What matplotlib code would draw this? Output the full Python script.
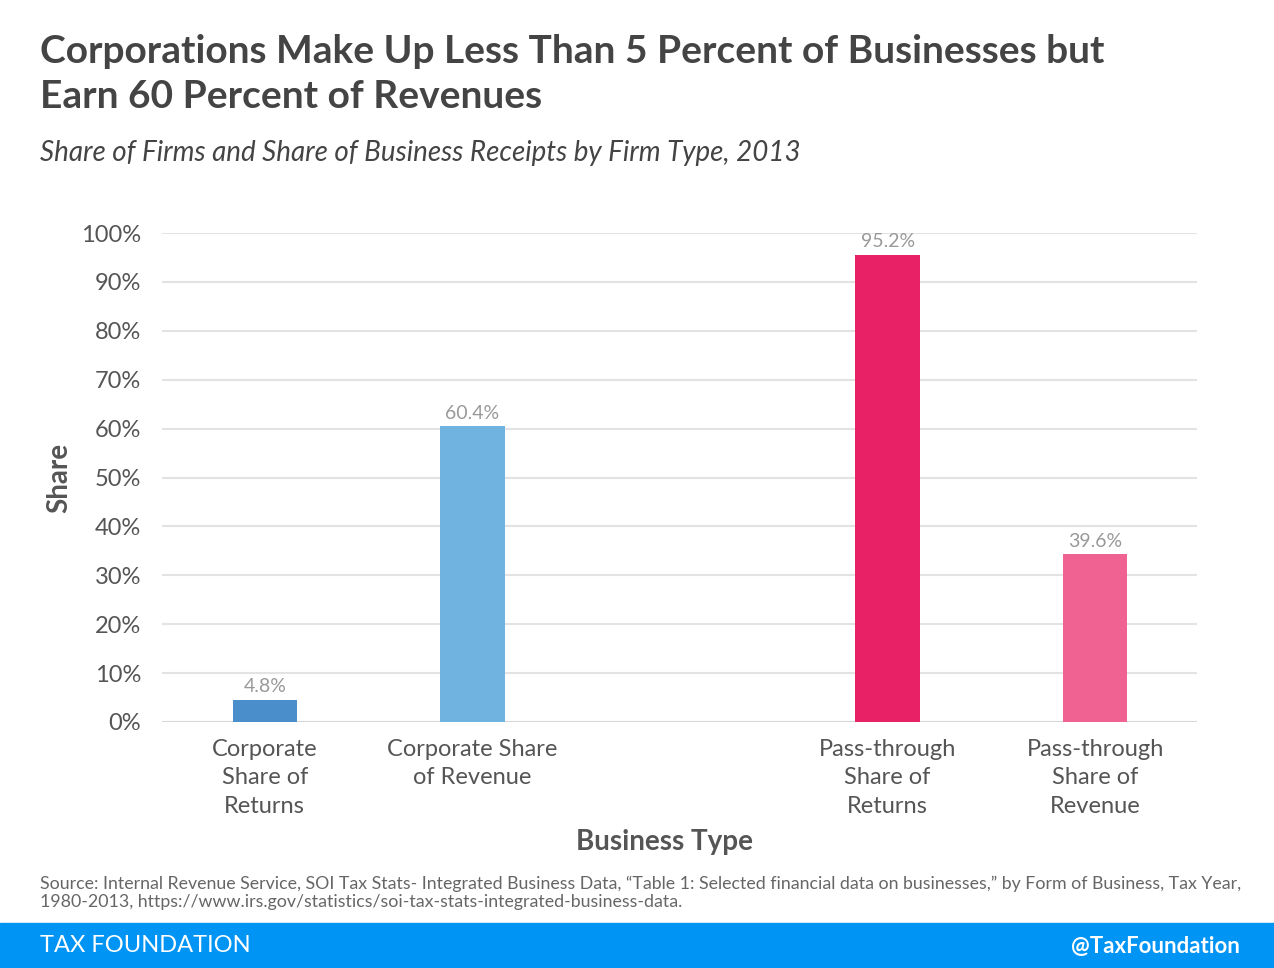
"""Corporate vs pass-through share of firms and receipts, 2013."""
import matplotlib
matplotlib.use("Agg")
import matplotlib.pyplot as plt
from matplotlib.patches import Rectangle

plt.rcParams['font.family'] = ['Lato', 'DejaVu Sans']

# data
categories = ['Corporate\nShare of\nReturns', 'Corporate Share\nof Revenue',
              'Pass-through\nShare of\nReturns', 'Pass-through\nShare of\nRevenue']
positions = [0, 1, 3, 4]                 # empty slot between the two groups
bar_heights = [4.6, 60.5, 95.6, 34.4]    # drawn heights (%)
value_labels = ['4.8%', '60.4%', '95.2%', '39.6%']
bar_colors = ['#4a8fcb', '#70b2e0', '#e82066', '#f06292']
y_ticks = [0, 10, 20, 30, 40, 50, 60, 70, 80, 90, 100]

text_dark = '#444444'
text_mid = '#555555'

fig = plt.figure(figsize=(12.74, 9.68), dpi=100)
ax = fig.add_axes([162 / 1274, 1 - 722 / 968, (1197 - 162) / 1274, (722 - 233) / 968])

bars = ax.bar(positions, bar_heights, width=0.31, color=bar_colors, zorder=3)
for bar, lab in zip(bars, value_labels):
    ax.annotate(lab, (bar.get_x() + bar.get_width() / 2, bar.get_height()),
                xytext=(0, 3), textcoords='offset points', ha='center', va='bottom',
                fontsize=14, color='#999999', zorder=4)

ax.set_ylim(0, 100)
ax.set_xlim(-0.495, 4.49)
ax.set_yticks(y_ticks)
ax.set_yticklabels([f'{t}%' for t in y_ticks], fontsize=17, color=text_mid)
ax.set_xticks(positions)
ax.set_xticklabels(categories, fontsize=17, color=text_mid, linespacing=1.45)
ax.tick_params(axis='both', length=0)
ax.tick_params(axis='x', pad=12)
ax.tick_params(axis='y', pad=15)
ax.yaxis.grid(True, color='#e3e3e3', linewidth=1.5, zorder=0)
for s in ax.spines.values():
    s.set_visible(False)
ax.axhline(0, color='#d6d6d6', linewidth=2, zorder=2)

ax.set_xlabel('Business Type', fontsize=20, fontweight='bold', color=text_mid)
ax.xaxis.set_label_coords((664 - 162) / 1035, -(842 - 722) / 489)
ax.xaxis.label.set_va('center')
ax.set_ylabel('Share', fontsize=20, fontweight='bold', color=text_mid, labelpad=6)

# title block
fig.text(40 / 1274, 1 - 74 / 968,
         'Corporations Make Up Less Than 5 Percent of Businesses but\nEarn 60 Percent of Revenues',
         fontsize=28, fontweight='bold', color=text_dark, va='center', linespacing=1.32)
fig.text(40 / 1274, 1 - 153 / 968,
         'Share of Firms and Share of Business Receipts by Firm Type, 2013',
         fontsize=20, style='italic', color=text_dark, va='center')

# source note
fig.text(40 / 1274, 1 - 893 / 968,
         'Source: Internal Revenue Service, SOI Tax Stats- Integrated Business Data, '
         '\u201cTable 1: Selected financial data on businesses,\u201d by Form of Business, Tax Year,\n'
         '1980-2013, https://www.irs.gov/statistics/soi-tax-stats-integrated-business-data.',
         fontsize=12.8, color='#666666', va='center', linespacing=1.2)

# footer band
fig.patches.append(Rectangle((0, 0), 1, 45 / 968, transform=fig.transFigure,
                             color='#0094f5', zorder=0))
fig.text(40 / 1274, 22 / 968, 'TAX FOUNDATION', fontsize=17, color='white', va='center')
fig.text(1240 / 1274, 22 / 968, '@TaxFoundation', fontsize=16, fontweight='bold',
         color='white', va='center', ha='right')

fig.savefig('out.png', dpi=100)
